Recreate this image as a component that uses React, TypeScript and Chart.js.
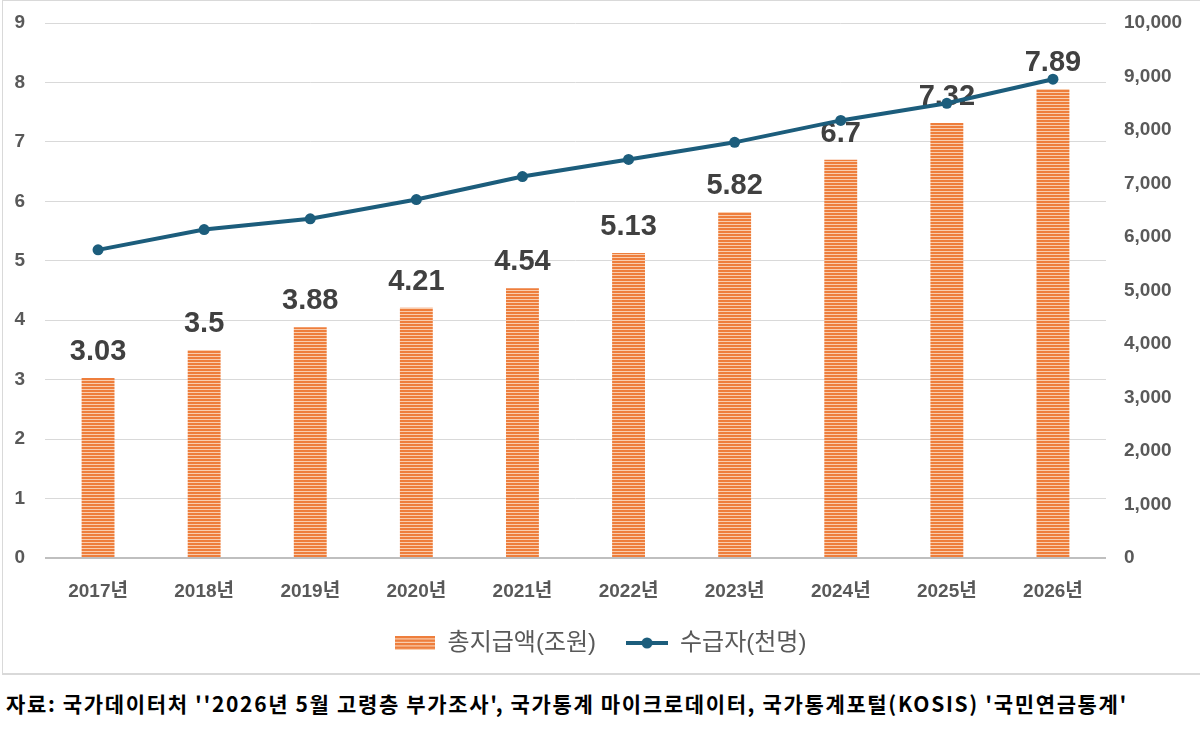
import { useEffect, useRef } from "react";
import { Chart, registerables } from "chart.js";

Chart.register(...registerables);

const categories = ["2017년", "2018년", "2019년", "2020년", "2021년", "2022년", "2023년", "2024년", "2025년", "2026년"];
const totalPayment = [3.03, 3.5, 3.88, 4.21, 4.54, 5.13, 5.82, 6.7, 7.32, 7.89];
const totalPaymentLabels = ["3.03", "3.5", "3.88", "4.21", "4.54", "5.13", "5.82", "6.7", "7.32", "7.89"];
const recipients = [5760, 6140, 6340, 6700, 7130, 7450, 7770, 8180, 8500, 8950];
const seriesNames = ["총지급액(조원)", "수급자(천명)"];
const sourceText = "자료: 국가데이터처 ''2026년 5월 고령층 부가조사', 국가통계 마이크로데이터, 국가통계포털(KOSIS) '국민연금통계'";

const FONT = "'Liberation Sans', 'Noto Sans CJK KR', sans-serif";
const ORANGE = "#EE7E3C";
const ORANGE_LIGHT = "#F9CDAE";
const BLUE = "#1C5D7C";

function makeStripePattern(): CanvasPattern | string {
  const c = document.createElement("canvas");
  c.width = 4;
  c.height = 3;
  const g = c.getContext("2d");
  if (!g) return ORANGE;
  g.fillStyle = ORANGE_LIGHT;
  g.fillRect(0, 0, 4, 3);
  g.fillStyle = ORANGE;
  g.fillRect(0, 0, 4, 2);
  const p = g.createPattern(c, "repeat");
  return p || ORANGE;
}

function makeBarIcon(): HTMLCanvasElement {
  const c = document.createElement("canvas");
  c.width = 40;
  c.height = 14;
  const g = c.getContext("2d")!;
  g.fillStyle = ORANGE_LIGHT;
  g.fillRect(0, 0, 40, 14);
  g.fillStyle = ORANGE;
  for (let y = 0; y < 14; y += 3.5) g.fillRect(0, y, 40, 2.3);
  return c;
}

function makeLineIcon(): HTMLCanvasElement {
  const c = document.createElement("canvas");
  c.width = 42;
  c.height = 14;
  const g = c.getContext("2d")!;
  g.strokeStyle = BLUE;
  g.lineWidth = 4;
  g.beginPath();
  g.moveTo(0, 7);
  g.lineTo(42, 7);
  g.stroke();
  g.fillStyle = BLUE;
  g.beginPath();
  g.arc(21, 7, 5.5, 0, Math.PI * 2);
  g.fill();
  return c;
}

const barLabelPlugin = {
  id: "barLabels",
  afterDatasetDraw(chart: any, args: any) {
    if (args.index !== 0) return;
    const ctx = chart.ctx;
    const meta = chart.getDatasetMeta(0);
    ctx.save();
    ctx.font = `bold 29px ${FONT}`;
    ctx.fillStyle = "#404040";
    ctx.textAlign = "center";
    ctx.textBaseline = "alphabetic";
    meta.data.forEach((el: any, i: number) => {
      ctx.fillText(totalPaymentLabels[i], el.x, el.y - 18);
    });
    ctx.restore();
  },
};

export default function App() {
  const canvasRef = useRef<HTMLCanvasElement | null>(null);

  useEffect(() => {
    document.body.style.margin = "0";
    const canvas = canvasRef.current;
    if (!canvas) return;
    const pattern = makeStripePattern();
    const barIcon = makeBarIcon();
    const lineIcon = makeLineIcon();

    const chart = new Chart(canvas, {
      type: "bar",
      data: {
        labels: categories,
        datasets: [
          {
            type: "bar",
            label: seriesNames[0],
            data: totalPayment,
            backgroundColor: pattern as any,
            borderWidth: 0,
            yAxisID: "y",
            categoryPercentage: 1,
            barPercentage: 0.31,
            order: 1,
          },
          {
            type: "line",
            label: seriesNames[1],
            data: recipients,
            borderColor: BLUE,
            backgroundColor: BLUE,
            borderWidth: 4,
            pointRadius: 5.5,
            pointBackgroundColor: BLUE,
            pointBorderWidth: 0,
            tension: 0,
            yAxisID: "y1",
            order: 0,
          } as any,
        ],
      },
      options: {
        animation: false,
        responsive: false,
        layout: { padding: { top: 0, bottom: 7, left: 0, right: 0 } },
        plugins: {
          tooltip: { enabled: false },
          legend: {
            position: "bottom",
            labels: {
              usePointStyle: true,
              pointStyleWidth: 42,
              padding: 30,
              font: { family: FONT, size: 24 },
              color: "#595959",
              generateLabels: () => [
                {
                  text: seriesNames[0],
                  pointStyle: barIcon as any,
                  fillStyle: ORANGE,
                  strokeStyle: ORANGE,
                  lineWidth: 0,
                  hidden: false,
                  datasetIndex: 0,
                  fontColor: "#595959",
                },
                {
                  text: seriesNames[1],
                  pointStyle: lineIcon as any,
                  fillStyle: BLUE,
                  strokeStyle: BLUE,
                  lineWidth: 0,
                  hidden: false,
                  datasetIndex: 1,
                  fontColor: "#595959",
                },
              ],
            },
          },
        },
        scales: {
          x: {
            grid: { display: false },
            border: { display: false },
            ticks: {
              font: { family: FONT, size: 19, weight: "bold" },
              color: "#595959",
              padding: 14,
            },
            afterFit: (scale: any) => {
              scale.height = 43;
            },
          },
          y: {
            position: "left",
            min: 0,
            max: 9,
            ticks: {
              stepSize: 1,
              font: { family: FONT, size: 19, weight: "bold", lineHeight: 0.32 },
              color: "#595959",
              padding: 20,
            },
            grid: {
              drawTicks: false,
              color: (c: any) => (c.tick && c.tick.value === 0 ? "#BFBFBF" : "#D9D9D9"),
              lineWidth: (c: any) => (c.tick && c.tick.value === 0 ? 2 : 1),
            },
            border: { display: false },
            afterFit: (scale: any) => {
              scale.width = 45;
            },
          },
          y1: {
            position: "right",
            min: 0,
            max: 10000,
            ticks: {
              stepSize: 1000,
              font: { family: FONT, size: 19, weight: "bold", lineHeight: 0.32 },
              color: "#595959",
              padding: 18,
              callback: (v: any) => Number(v).toLocaleString("en-US"),
            },
            grid: { display: false, drawTicks: false },
            border: { display: false },
            afterFit: (scale: any) => {
              scale.width = 94;
            },
          },
        },
      },
      plugins: [barLabelPlugin],
    });

    return () => chart.destroy();
  }, []);

  return (
    <div style={{ position: "relative", width: 1200, height: 734, background: "#fff", overflow: "hidden" }}>
      <div
        style={{
          position: "absolute",
          left: 2,
          top: 0,
          width: 1200,
          height: 675,
          borderTop: "1px solid #D9D9D9",
          borderLeft: "1px solid #D9D9D9",
          borderBottom: "2px solid #D9D9D9",
          boxSizing: "border-box",
        }}
      />
      <canvas
        ref={canvasRef}
        width={1200}
        height={672}
        style={{ position: "absolute", left: 0, top: 0, width: 1200, height: 672 }}
      />
      <div
        style={{
          position: "absolute",
          left: 6,
          top: 688,
          fontFamily: "'Noto Sans CJK KR', sans-serif",
          fontWeight: "bold",
          fontSize: 21,
          letterSpacing: "1.65px",
          lineHeight: "30px",
          color: "#000",
          whiteSpace: "nowrap",
        }}
      >
        {sourceText}
      </div>
    </div>
  );
}
